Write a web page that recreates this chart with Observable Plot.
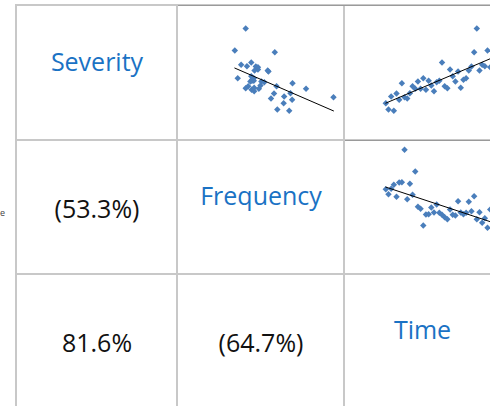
<!DOCTYPE html>
<html>
<head>
<meta charset="utf-8">
<script src="https://cdn.jsdelivr.net/npm/d3@7"></script>
<script src="https://cdn.jsdelivr.net/npm/@observablehq/plot@0.6"></script>
<style>
  body { margin: 0; background: #fff; }
  #matrix { position: relative; width: 490px; height: 406px; overflow: hidden; font-family: "Open Sans", sans-serif; }
  .cell { position: absolute; }
  .cell svg { display: block; overflow: visible; max-width: none !important; }
  .rule { position: absolute; background: #c8c8c8; }
  .edge { position: absolute; background: #9a9a9a; }
  .stub { position: absolute; left: 0px; top: 207px; font-size: 9px; line-height: 12px; color: #444; }
</style>
</head>
<body>
<div id="matrix"><div class="stub">e</div></div>
<script>
// Variables on the diagonal, in matrix order
const variables = ["Severity", "Frequency", "Time"];

// Pairwise correlations shown below the diagonal (negative values in brackets)
const pairLabels = [
  { row: 1, col: 0, text: "(53.3%)" }, // Severity vs Frequency
  { row: 2, col: 0, text: "81.6%" },   // Severity vs Time
  { row: 2, col: 1, text: "(64.7%)" }  // Frequency vs Time
];

// Observations per period
const period = d3.range(1, 41);
const severity = [
  3.63, 3.00, 4.30, 2.87, 4.60, 3.97, 5.63, 4.23, 4.10, 4.63,
  5.33, 5.07, 5.80, 5.07, 6.13, 4.97, 5.87, 5.40, 4.83, 5.73,
  5.87, 7.70, 5.33, 5.13, 7.00, 6.33, 5.80, 6.80, 5.17, 5.97,
  6.13, 6.90, 7.30, 8.73, 11.10, 6.90, 7.47, 7.33, 8.90, 7.23
];
const frequency = [
  8.43, 7.93, 8.47, 8.87, 7.67, 9.10, 9.13, 12.37, 7.43, 8.97,
  7.87, 10.20, 6.67, 6.47, 4.80, 5.90, 5.93, 6.60, 6.10, 6.90,
  6.07, 5.87, 5.63, 5.43, 6.40, 5.87, 5.80, 7.23, 6.10, 5.93,
  6.07, 7.17, 6.23, 7.73, 5.43, 6.13, 5.07, 5.53, 4.57, 6.40
];

// Axis ranges of the embedded charts (axes themselves are hidden)
const xDomains = { Frequency: [0.04, 13.24], Time: [-14.43, 43.85] };
const yDomains = { Severity: [0, 13.4], Frequency: [0, 13.4] };

const rows = period.map((t, i) => ({ Time: t, Severity: severity[i], Frequency: frequency[i] }));

// Table layout
const colLeft = [16, 177, 344];
const colWidth = [161, 167, 156];
const rowTop = [5, 139, 273];
const rowHeight = [134, 134, 134];

const markerColor = "#4a7ebb";
const labelColor = "#1a72c4";
const root = document.getElementById("matrix");

function place(node, r, c) {
  const div = document.createElement("div");
  div.className = "cell";
  div.style.left = colLeft[c] + "px";
  div.style.top = rowTop[r] + "px";
  div.style.width = colWidth[c] + "px";
  div.style.height = rowHeight[r] + "px";
  div.appendChild(node);
  root.appendChild(div);
}

function textCell(r, c, text, color, dy) {
  return Plot.plot({
    width: colWidth[c], height: rowHeight[r], margin: 0,
    style: { background: "transparent", fontFamily: "'Open Sans', sans-serif" },
    marks: [
      Plot.text([text], { frameAnchor: "middle", text: d => d, fontSize: 25, fill: color, dy })
    ]
  });
}

function scatterCell(r, c) {
  const xv = variables[c], yv = variables[r];
  return Plot.plot({
    width: colWidth[c], height: rowHeight[r], margin: 0,
    style: { background: "transparent" },
    x: { domain: xDomains[xv], axis: null },
    y: { domain: yDomains[yv], axis: null },
    marks: [
      Plot.dot(rows, { x: xv, y: yv, symbol: "diamond2", r: 2.9, fill: markerColor }),
      Plot.linearRegressionY(rows, { x: xv, y: yv, stroke: "#000", strokeWidth: 1, ci: 0 })
    ]
  });
}

for (let r = 0; r < 3; r++) {
  for (let c = 0; c < 3; c++) {
    if (r === c) place(textCell(r, c, variables[r], labelColor, -10), r, c);
    else if (r < c) place(scatterCell(r, c), r, c);
  }
}
for (const p of pairLabels) place(textCell(p.row, p.col, p.text, "#111", 3), p.row, p.col);

// Grid rules of the table
const rules = [
  { left: 15, top: 4, width: 480, height: 2 },
  { left: 15, top: 139, width: 480, height: 2 },
  { left: 15, top: 273, width: 480, height: 2 },
  { left: 15, top: 4, width: 2, height: 410 },
  { left: 176, top: 4, width: 2, height: 410 },
  { left: 343, top: 4, width: 2, height: 410 }
];
for (const g of rules) {
  const d = document.createElement("div");
  d.className = "rule";
  Object.assign(d.style, { left: g.left + "px", top: g.top + "px", width: g.width + "px", height: g.height + "px" });
  root.appendChild(d);
}

// Darker top edges of the embedded chart frames
const edges = [
  { left: 178, top: 5, width: 320 },
  { left: 345, top: 140, width: 150 }
];
for (const g of edges) {
  const d = document.createElement("div");
  d.className = "edge";
  Object.assign(d.style, { left: g.left + "px", top: g.top + "px", width: g.width + "px", height: "1px" });
  root.appendChild(d);
}
</script>
</body>
</html>
